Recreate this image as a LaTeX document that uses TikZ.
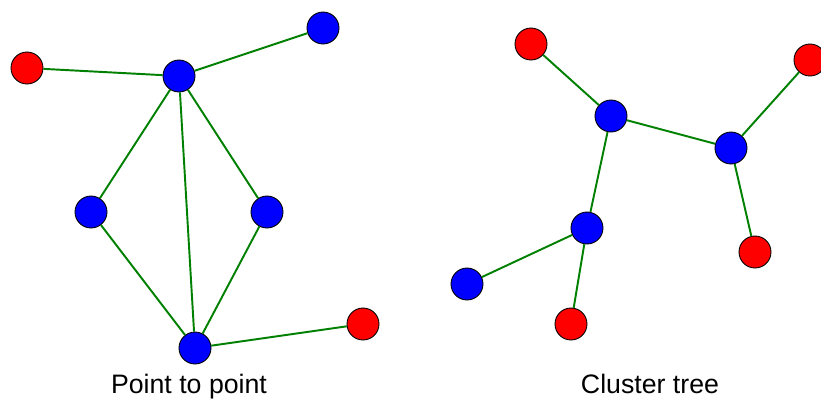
\documentclass[tikz,border=0pt]{standalone}
\usepackage{fontspec}
\setmainfont{Liberation Sans}
\usepackage{tikz}
\usetikzlibrary{positioning}

\definecolor{linkgreen}{RGB}{0,128,0}

\tikzset{
    dev/.style={draw=black,circle,line width=0.5pt,minimum size=0.64cm,inner sep=0pt},
    router/.style={dev,fill=blue},
    enddev/.style={dev,fill=red},
    link/.style={draw=linkgreen,line width=1.1pt},
    caption/.style={anchor=base,font=\fontsize{15.2}{18}\selectfont}
}

\begin{document}
\begin{tikzpicture}[x=0.02cm,y=-0.02cm]
            \useasboundingbox (0,0) rectangle (821,400);

            % point to point
            \node[enddev] (p1) at (27,68) {};
            \node[router] (p2) at (179,76) {};
            \node[router] (p3) at (323,28) {};
            \node[router] (p4) at (91,212) {};
            \node[router] (p5) at (267,212) {};
            \node[router] (p6) at (195,348) {};
            \node[enddev] (p7) at (363,324) {};

            \foreach \a/\b in {p1/p2,p2/p3,p2/p4,p2/p5,p2/p6,p4/p6,p5/p6,p6/p7}
                \draw[link] (\a) -- (\b);

            \node[caption] (ptp) at (189,393) {Point to point};

            % cluster tree
            \node[enddev] (c1) at (531,44) {};
            \node[router] (c2) at (611,116) {};
            \node[router] (c3) at (731,148) {};
            \node[enddev] (c4) at (810,60) {};
            \node[enddev] (c5) at (755,252) {};
            \node[router] (c6) at (587,228) {};
            \node[router] (c7) at (467,284) {};
            \node[enddev] (c8) at (571,324) {};

            \foreach \a/\b in {c1/c2,c2/c3,c3/c4,c3/c5,c2/c6,c6/c7,c6/c8}
                \draw[link] (\a) -- (\b);

            \node[caption] (tree) at (650,393) {Cluster tree};
        \end{tikzpicture}
\end{document}
